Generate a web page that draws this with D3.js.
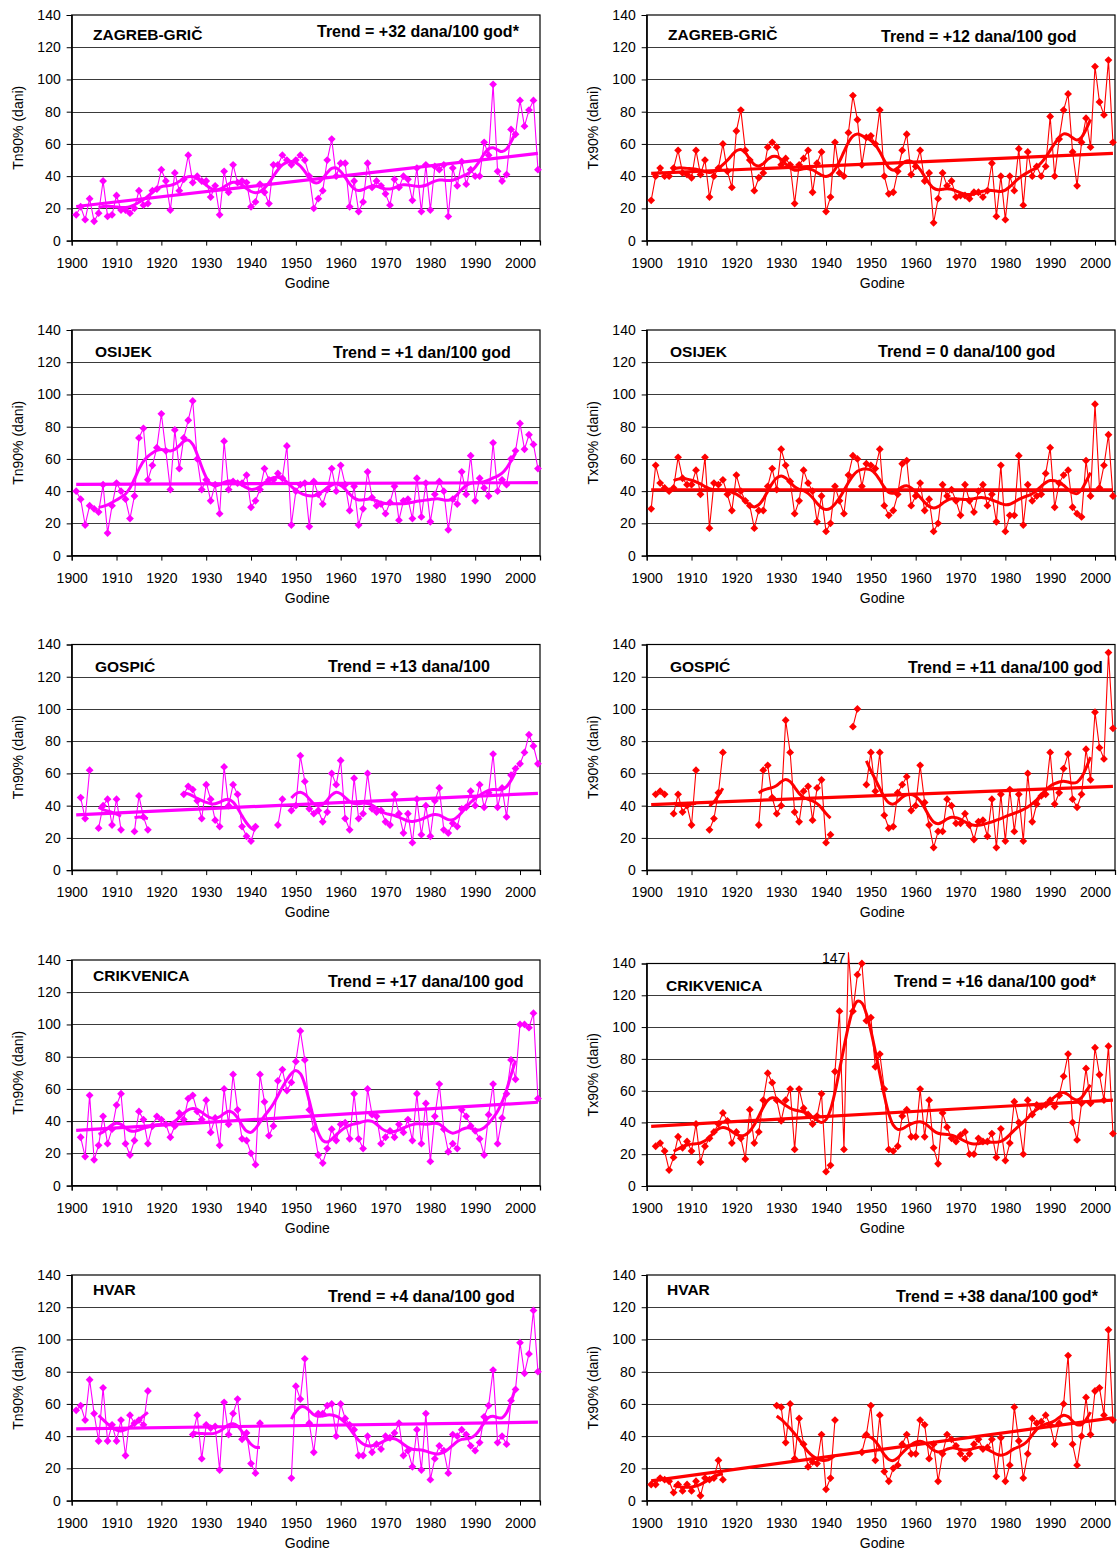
<!DOCTYPE html>
<html>
<head>
<meta charset="utf-8">
<script src="https://cdn.jsdelivr.net/npm/d3@7/dist/d3.min.js"></script>
<style>
  body { margin: 0; background: #fff; }
  svg { display: block; }
  text { font-family: "Liberation Sans", Arial, sans-serif; fill: #000; }
</style>
</head>
<body>
<svg id="chart" width="1118" height="1551"></svg>
<script>
// Annual counts of warm nights (Tn90%) and warm days (Tx90%), 1901–2004
const firstYear = 1901;
const n = null;

const yTicks = [0, 20, 40, 60, 80, 100, 120, 140];
const xTicks = [1900, 1910, 1920, 1930, 1940, 1950, 1960, 1970, 1980, 1990, 2000];

const stations = ["ZAGREB-GRIČ", "OSIJEK", "GOSPIĆ", "CRIKVENICA", "HVAR"];
const trendTn = ["Trend = +32 dana/100 god*", "Trend = +1 dan/100 god", "Trend = +13 dana/100",
                 "Trend = +17 dana/100 god", "Trend = +4 dana/100 god"];
const trendTx = ["Trend = +12 dana/100 god", "Trend = 0 dana/100 god", "Trend = +11 dana/100 god",
                 "Trend = +16 dana/100 god*", "Trend = +38 dana/100 god*"];

const zagrebTn = [16,21,13,26,12,17,37,15,16,28, 19,19,17,20,31,22,23,31,32,44,
  37,19,42,31,38,53,36,40,37,37, 27,34,16,43,30,47,36,37,36,21,
  24,35,30,23,47,47,53,50,47,50, 53,50,40,20,26,31,50,63,40,48,
  48,21,37,18,24,48,33,37,34,29, 22,38,33,40,38,25,45,18,47,19,
  46,44,47,15,45,34,49,35,44,40, 40,61,53,97,43,37,41,69,66,87,
  71,81,87,44];
const zagrebTx = [25,40,45,40,40,45,56,42,41,39, 56,41,50,27,40,45,60,43,33,68,
  81,56,50,31,39,42,58,61,58,47, 51,47,23,47,51,56,30,48,55,18,
  27,61,42,40,67,90,75,47,64,65, 60,81,40,29,30,43,56,66,41,46,
  56,37,42,11,26,42,34,37,27,28, 28,26,30,30,27,31,48,15,40,13,
  40,31,57,22,55,40,46,40,46,77, 40,63,81,91,55,34,61,76,58,108,
  86,78,112,61];
const osijekTn = [40,35,19,31,29,27,44,14,31,45, 40,35,23,37,73,79,47,56,67,88,
  65,41,78,54,73,84,96,60,41,47, 34,44,26,71,41,46,45,45,50,30,
  34,41,54,47,47,51,48,68,19,40, 44,45,18,46,38,32,41,54,40,56,
  44,28,43,19,29,52,36,31,32,26, 33,43,22,34,35,23,48,24,45,21,
  38,46,40,16,35,32,52,38,62,34, 48,42,37,70,40,47,44,60,65,82,
  66,75,69,54];
const osijekTx = [29,56,45,42,40,42,61,48,44,44, 53,38,61,17,45,44,47,38,28,50,
  40,34,31,17,28,28,43,54,41,66, 56,46,26,34,53,45,40,21,37,15,
  20,43,34,26,50,62,60,43,57,56, 54,66,31,25,28,38,57,59,31,37,
  45,28,35,15,20,44,37,41,34,25, 44,34,27,40,44,31,38,21,56,15,
  25,25,62,19,44,34,37,38,51,67, 30,45,50,53,30,26,24,59,37,94,
  42,56,75,37];
const gospicTn = [n,45,32,62,n,26,40,44,28,44, 25,n,n,24,46,33,25,n,n,n,
  n,n,n,n,47,52,50,43,32,53, 44,31,27,64,40,53,47,27,21,18,
  27,n,n,n,n,28,44,n,37,40, 71,55,38,35,37,30,36,60,53,68,
  32,25,57,32,35,60,38,36,37,30, 28,47,35,23,35,17,44,22,40,21,
  43,51,25,23,29,27,38,39,49,40, 53,39,48,72,39,51,33,59,63,66,
  73,84,77,66];
const gospicTx = [n,47,49,47,n,35,47,36,40,28, 62,n,n,25,32,48,73,n,n,n,
  n,n,n,n,28,62,65,45,35,40, 93,73,36,30,49,52,31,51,56,17,
  22,n,n,n,n,89,100,n,53,73, 49,73,34,26,27,48,53,58,37,40,
  65,42,28,14,24,24,44,40,29,29, 35,28,19,30,31,21,44,14,47,18,
  50,24,47,18,60,30,41,46,47,73, 41,48,63,72,44,39,47,75,56,98,
  76,69,135,88];
const crikvenicaTn = [n,30,18,56,16,25,43,26,35,50, 57,26,19,28,46,41,26,37,43,41,
  38,30,37,45,41,54,56,46,41,53, 33,42,25,60,38,69,47,29,28,20,
  13,69,52,31,37,65,72,59,64,77, 96,78,47,35,19,14,23,35,28,38,
  39,29,57,29,23,60,44,43,26,30, 34,30,38,33,41,28,57,26,51,15,
  43,63,35,21,26,23,47,43,37,34, 29,19,44,63,26,42,57,78,66,100,
  100,98,107,54];
const crikvenicaTx = [n,25,27,22,10,18,31,24,28,22, 39,15,25,30,34,39,46,41,27,34,
  30,17,48,27,34,54,71,65,54,41, 54,61,23,61,49,45,39,44,58,9,
  13,72,110,23,147,110,133,140,104,106, 75,83,61,23,22,25,44,48,31,31,
  61,31,54,24,14,46,37,30,28,32, 34,20,20,30,28,28,33,18,36,16,
  27,53,40,20,54,45,51,50,51,54, 50,57,69,83,40,29,52,74,52,87,
  70,54,88,33];
const hvarTn = [56,59,50,75,54,37,70,37,47,37, 50,28,53,48,50,47,68,n,n,n,
  n,n,n,n,n,n,41,53,26,47, 45,46,19,61,41,54,63,38,42,23,
  17,48,n,n,n,n,n,n,14,71, 63,88,48,30,54,54,59,60,40,60,
  51,47,44,28,28,40,30,35,32,40, 39,42,48,28,31,21,44,19,54,13,
  26,34,31,17,41,40,44,41,34,31, 36,52,59,81,36,40,35,62,69,98,
  79,91,118,80];
const hvarTx = [10,10,14,13,12,5,10,6,10,6, 12,3,14,13,14,25,13,n,n,n,
  n,n,n,n,n,n,n,n,59,58, 36,60,26,51,35,21,24,23,41,7,
  14,50,n,n,n,n,n,30,41,59, 25,53,18,12,20,22,35,41,29,29,
  50,47,26,35,12,29,41,38,34,29, 26,29,35,38,32,33,38,15,39,12,
  22,58,37,14,29,51,48,49,53,47, 35,48,60,90,35,22,40,64,41,68,
  70,53,106,50];

const seriesTn = [zagrebTn, osijekTn, gospicTn, crikvenicaTn, hvarTn];
const seriesTx = [zagrebTx, osijekTx, gospicTx, crikvenicaTx, hvarTx];

// ---- layout ----
const colLeft = [71.7, 646.7];
const plotW = 468.3;
const rowTop = [15, 330, 644.5, 960, 1275];
const plotH = 225.6;
// per panel: [stationX, stationBaseline, trendX, trendBaseline] (left col, right col)
const textPos = [
  [[93, 40, 317, 37],      [668, 40, 881, 42]],
  [[95, 357, 333, 358],    [670, 357, 878, 357]],
  [[95, 672, 328, 672],    [670, 672, 908, 673]],
  [[93, 981, 328, 987],    [666, 991, 894, 987]],
  [[93, 1295, 328, 1302],  [667, 1295, 896, 1302]]
];
const styles = [
  { color: "#FF00FF", title: "Tn90% (dani)" },
  { color: "#FF0000", title: "Tx90% (dani)" }
];

const svg = d3.select("#chart");

function runsOf(vals) {
  const runs = [];
  let start = -1;
  vals.forEach((v, i) => {
    if (v != null && start < 0) start = i;
    if ((v == null || i === vals.length - 1) && start >= 0) {
      runs.push([start, v == null ? i - 1 : i]);
      start = -1;
    }
  });
  return runs;
}

// Gaussian low-pass filter, 11 weights
function lowPass(vals) {
  const sigma = 2;
  const lastIdx = vals.length - 1;
  const out = vals.map(() => null);
  runsOf(vals).forEach(([a, b]) => {
    if (b - a < 2) return;
    for (let i = a; i <= b; i++) {
      if (i < 5 || i > lastIdx - 5) continue;
      let s = 0, w = 0;
      for (let k = -5; k <= 5; k++) {
        const u = vals[i + k];
        if (u != null && u !== undefined) {
          const wt = Math.exp(-k * k / (2 * sigma * sigma));
          s += wt * u; w += wt;
        }
      }
      out[i] = s / w;
    }
  });
  return out;
}

function drawPanel(row, col) {
  const vals = col === 0 ? seriesTn[row] : seriesTx[row];
  const label = col === 0 ? trendTn[row] : trendTx[row];
  const st = styles[col];
  const left = colLeft[col];
  let top = rowTop[row], h = plotH;
  if (row === 3 && col === 1) { top = 963.5; h = 222.5; }
  const bottom = top + h;

  const x = d3.scaleLinear().domain([1900, 2004.46]).range([left, left + plotW]);
  const y = d3.scaleLinear().domain([0, 140]).range([bottom, top]);

  const g = svg.append("g");

  // grid
  g.selectAll(".grid").data(yTicks.filter(t => t > 0 && t < 140)).join("line")
    .attr("x1", left).attr("x2", left + plotW)
    .attr("y1", d => Math.round(y(d)) + 0.5).attr("y2", d => Math.round(y(d)) + 0.5)
    .attr("stroke", "#3a3a3a").attr("stroke-width", 1);

  // frame
  g.append("rect").attr("x", left).attr("y", top).attr("width", plotW).attr("height", h)
    .attr("fill", "none").attr("stroke", "#000").attr("stroke-width", 1.2);

  // y axis
  const yAxis = d3.axisLeft(y).tickValues(yTicks).tickSize(5).tickPadding(6);
  const ya = g.append("g").attr("transform", `translate(${left},0)`).call(yAxis);
  // x axis
  const xAxis = d3.axisBottom(x).tickValues(xTicks).tickFormat(d3.format("d")).tickSize(5).tickPadding(12);
  const xa = g.append("g").attr("transform", `translate(0,${bottom})`).call(xAxis);
  [ya, xa].forEach(a => {
    a.select(".domain").attr("stroke", "#000").attr("stroke-width", 1.2);
    a.selectAll(".tick line").attr("stroke", "#000");
    a.selectAll(".tick text").attr("font-size", 14).attr("font-family", "Liberation Sans, Arial, sans-serif").attr("fill", "#000");
  });

  // axis titles
  g.append("text").attr("x", left + plotW / 2 + 1.5).attr("y", bottom + 47)
    .attr("text-anchor", "middle").attr("font-size", 14).text("Godine");
  g.append("text")
    .attr("transform", `translate(${left - 49},${top + h / 2}) rotate(-90)`)
    .attr("text-anchor", "middle").attr("font-size", 14).text(st.title);

  const pts = vals.map((v, i) => ({ yr: firstYear + i, v }));

  // trend line: slope as stated in the label, through the mean of the record
  const slope = parseFloat(label.replace("Trend =", "")) / 100;
  const valid = pts.filter(d => d.v != null);
  const mx = d3.mean(valid, d => d.yr), my = d3.mean(valid, d => d.v);
  const trendYrs = [firstYear, firstYear + vals.length - 1];
  g.append("path")
    .attr("d", d3.line().x(d => x(d)).y(d => y(my + slope * (d - mx)))(trendYrs))
    .attr("fill", "none").attr("stroke", st.color).attr("stroke-width", 3.2);

  // annual series
  g.append("path")
    .attr("d", d3.line().defined(d => d.v != null).x(d => x(d.yr)).y(d => y(d.v))(pts))
    .attr("fill", "none").attr("stroke", st.color).attr("stroke-width", 1.1);

  // low-pass filtered curve
  const sm = lowPass(vals).map((s, i) => ({ yr: firstYear + i, s }));
  g.append("path")
    .attr("d", d3.line().defined(d => d.s != null).x(d => x(d.yr)).y(d => y(d.s))
      .curve(d3.curveCatmullRom.alpha(0.5))(sm))
    .attr("fill", "none").attr("stroke", st.color).attr("stroke-width", 3);

  // diamond markers (values above the axis maximum get a value label instead)
  const r = 3.9;
  g.selectAll(".mk").data(valid.filter(d => d.v <= 140)).join("path")
    .attr("d", d => `M${x(d.yr)},${y(d.v) - r}L${x(d.yr) + r},${y(d.v)}L${x(d.yr)},${y(d.v) + r}L${x(d.yr) - r},${y(d.v)}Z`)
    .attr("fill", st.color);
  g.selectAll(".over").data(valid.filter(d => d.v > 140)).join("text")
    .attr("x", d => x(d.yr) - 3).attr("y", d => y(d.v) + 11)
    .attr("text-anchor", "end").attr("font-size", 14).text(d => d.v);

  // station name and trend text
  const tp = textPos[row][col];
  g.append("text").attr("x", tp[0]).attr("y", tp[1]).attr("font-size", 15.5)
    .attr("font-weight", "bold").text(stations[row]);
  g.append("text").attr("x", tp[2]).attr("y", tp[3]).attr("font-size", 16)
    .attr("font-weight", "bold").text(label);
}

for (let row = 0; row < 5; row++) {
  drawPanel(row, 0);
  drawPanel(row, 1);
}
</script>
</body>
</html>
